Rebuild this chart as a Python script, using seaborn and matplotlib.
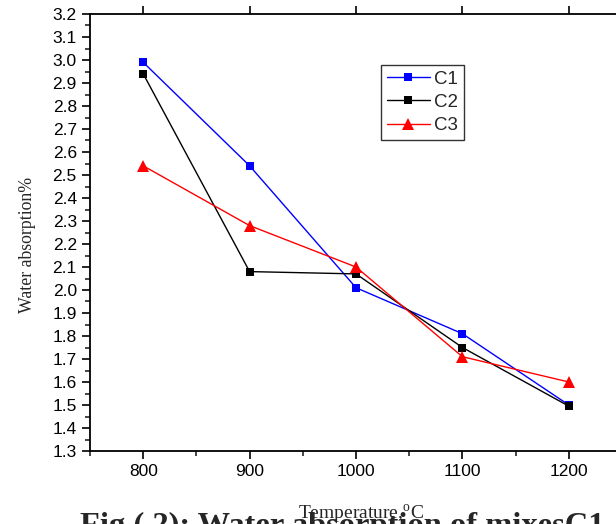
import matplotlib
matplotlib.use('Agg')
import matplotlib.pyplot as plt
from matplotlib.ticker import MultipleLocator, FormatStrFormatter
import pandas as pd
import seaborn

temperature = [800, 900, 1000, 1100, 1200]
c1 = [2.99, 2.54, 2.01, 1.81, 1.50]
c2 = [2.94, 2.08, 2.07, 1.75, 1.495]
c3 = [2.54, 2.28, 2.10, 1.71, 1.60]

seaborn.set_style('ticks')
plt.rcParams['font.family'] = ['Liberation Sans', 'DejaVu Sans']
plt.rcParams['mathtext.fontset'] = 'custom'
plt.rcParams['mathtext.rm'] = 'Liberation Serif'

fig = plt.figure(figsize=(6.16, 5.24), dpi=100)
ax = fig.add_axes([90/616, 73/524, 532/616, 437/524])

df = pd.DataFrame({'Temperature': temperature, 'C1': c1, 'C2': c2, 'C3': c3})
seaborn.lineplot(data=df, x='Temperature', y='C1', color='#0000ff', marker='s',
                 markersize=6, markeredgewidth=0, linewidth=1, label='C1', ax=ax)
seaborn.lineplot(data=df, x='Temperature', y='C2', color='black', marker='s',
                 markersize=6, markeredgewidth=0, linewidth=1, label='C2', ax=ax)
seaborn.lineplot(data=df, x='Temperature', y='C3', color='#ff0000', marker='^',
                 markersize=8, markeredgewidth=0, linewidth=1, label='C3', ax=ax)

ax.set_xlim(750, 1250)
ax.set_ylim(1.3, 3.2)
ax.xaxis.set_major_locator(MultipleLocator(100))
ax.xaxis.set_minor_locator(MultipleLocator(50))
ax.yaxis.set_major_locator(MultipleLocator(0.1))
ax.yaxis.set_minor_locator(MultipleLocator(0.05))
ax.yaxis.set_major_formatter(FormatStrFormatter('%.1f'))
ax.tick_params(axis='both', which='major', direction='out', length=6, width=1.2,
               labelsize=12.5, colors='black')
ax.tick_params(axis='both', which='minor', direction='out', length=3.5, width=1.2)
ax.tick_params(axis='x', top=True, which='major')
ax.tick_params(axis='x', which='major', pad=3.5)
for s in ['left', 'bottom', 'top']:
    ax.spines[s].set_linewidth(1.3)
    ax.spines[s].set_color('black')
ax.spines['right'].set_visible(False)

ax.set_xlabel('Temperature,$^{\\mathrm{o}}$C', family='Liberation Serif', fontsize=14)
ax.xaxis.set_label_coords(0.509, -0.118)
ax.set_ylabel('Water absorption%', family='Liberation Serif', fontsize=12.8)
ax.yaxis.set_label_coords(-0.102, 0.471)

leg = ax.legend(loc='upper left', bbox_to_anchor=(0.547, 0.883), fontsize=13.5,
                frameon=True, fancybox=False, edgecolor='black', handlelength=2.3,
                handletextpad=0.25, borderpad=0.3, labelspacing=0.32, borderaxespad=0)
leg.get_frame().set_linewidth(1)

# caption sits behind the axis label, cut off by the bottom edge
fig.text(80/616, -0.02, 'Fig ( 2): Water absorption of mixesC1',
         family='Liberation Serif', weight='bold', fontsize=23.4, va='baseline', ha='left',
         zorder=-1)

fig.savefig('out.png', dpi=100)
